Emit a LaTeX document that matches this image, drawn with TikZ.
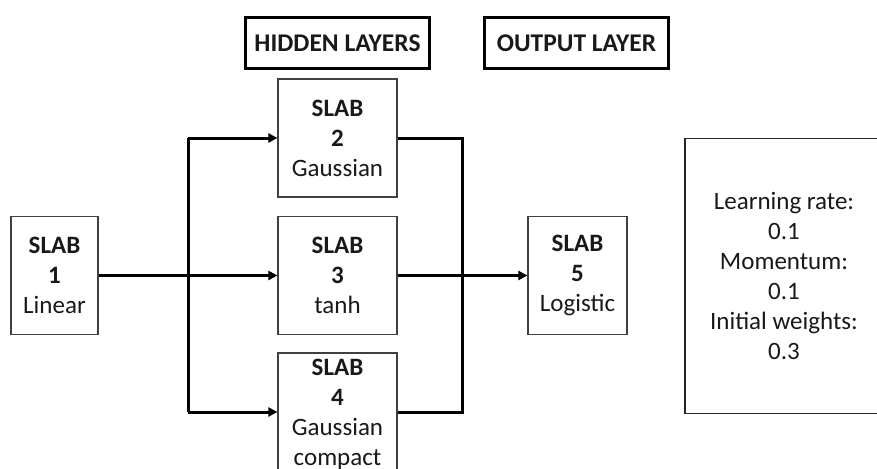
\documentclass[tikz,border=0pt]{standalone}
\usepackage{fontspec}
\setmainfont{Carlito}
\usetikzlibrary{arrows.meta,calc}
\begin{document}
\begin{tikzpicture}[x=1pt,y=-1pt,
  txt/.style={font=\fontsize{25}{30}\selectfont, align=center, text=black!90},
  slab/.style={txt, draw=black!75, line width=1.2pt, inner sep=0pt, minimum height=118pt},
  head/.style={txt, draw=black, line width=3pt, inner sep=0pt, minimum width=184pt, minimum height=51pt, font=\fontsize{25.5}{30}\selectfont\bfseries},
  conn/.style={line width=3pt, black},
  tip/.style={-{Triangle[length=9pt,width=9pt]}}
]
\useasboundingbox (0,0) rectangle (877,468);
\clip (0,0) rectangle (877,468);
\fill[white] (0,0) rectangle (877,468);

\node[head] (hid) at (337.5,43.5) {HIDDEN LAYERS};
\node[head] (out) at (576.5,43) {OUTPUT LAYER};

\node[slab, minimum width=87pt] (s1) at (54.5,275.5) {\textbf{SLAB}\\\textbf{1}\\Linear};
\node[slab, minimum width=119pt] (s2) at (337.5,138) {\textbf{SLAB}\\\textbf{2}\\Gaussian};
\node[slab, minimum width=119pt] (s3) at (337.5,275.5) {\textbf{SLAB}\\\textbf{3}\\tanh};
\node[slab, minimum width=119pt, text depth=0pt] (s4) at (337.5,412) {\textbf{SLAB}\\\textbf{4}\\Gaussian\\compact};
\node[slab, minimum width=99pt] (s5) at (577.5,275.5) {\textbf{SLAB}\\\textbf{5}\\Logistic};

\node[txt, draw=black!85, line width=1.5pt, minimum width=198pt, minimum height=275pt, inner sep=0pt] (par) at (784,276)
  {Learning rate:\\0.1\\Momentum:\\0.1\\Initial weights:\\0.3};

\coordinate (jl) at (188,0);
\coordinate (jr) at (462,0);

\draw[conn,tip] (s1.east) -- (s3.west);
\draw[conn] (jl |- s2.west) -- (jl |- s4.west);
\draw[conn,tip] (jl |- s2.west) -- (s2.west);
\draw[conn,tip] (jl |- s4.west) -- (s4.west);
\draw[conn] (s2.east) -- (jr |- s2.east) -- (jr |- s4.east) -- (s4.east);
\draw[conn,tip] (s3.east) -- (s5.west);
\end{tikzpicture}
\end{document}
